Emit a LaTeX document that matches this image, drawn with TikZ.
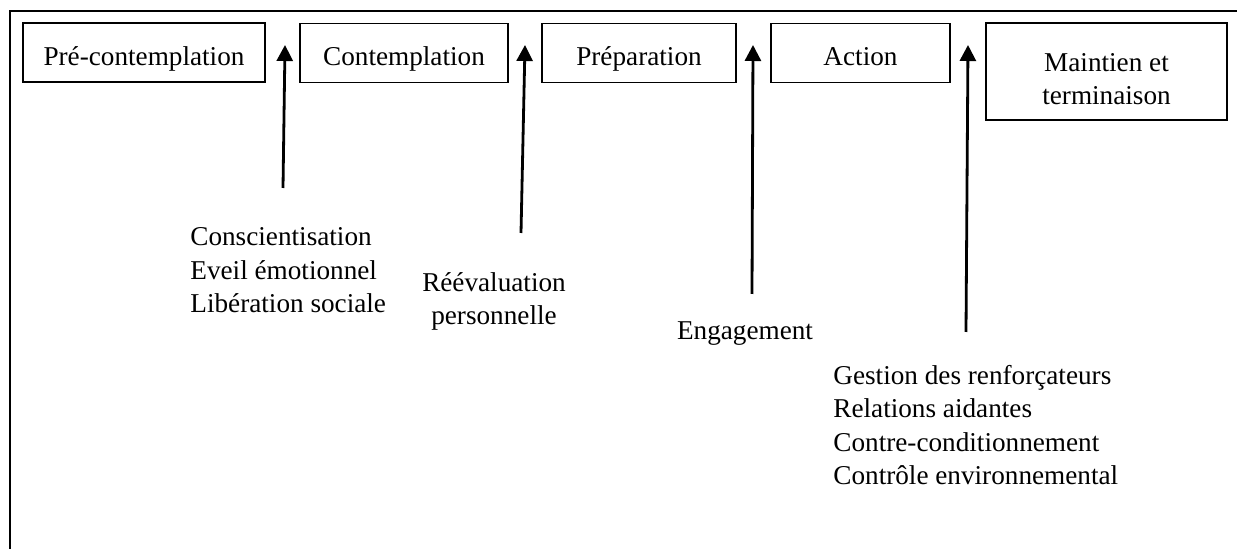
\documentclass[tikz,border=0pt]{standalone}
\usepackage{fontspec}
\setmainfont{Liberation Serif}
\usetikzlibrary{arrows.meta, positioning}

\begin{document}
\begin{tikzpicture}[x=0.5pt, y=-0.5pt, >={Triangle[length=8pt, width=8pt]},
  every node/.style={font=\fontsize{13.6}{16.8}\selectfont},
  stage/.style={draw, line width=0.6pt, minimum height=29.5pt, inner sep=0pt, align=center,
    text height=15.25pt, text depth=2.5pt},
  levier/.style={->, line width=1.4pt}]
  \useasboundingbox (0,0) rectangle (1237,549);
  % cadre
  \draw[line width=1.2pt] (10,549) -- (10,11) -- (1237,11);
  % stades
  \node[stage, minimum width=121pt] (pre) at (144,52.5) {Pré-contemplation};
  \node[stage, minimum width=104pt] (cont) at (404,53) {Contemplation};
  \node[stage, minimum width=97pt] (prep) at (639,53) {Préparation};
  \node[stage, minimum width=89.5pt] (act) at (860.5,53) {Action};
  \node[stage, minimum width=120.5pt, minimum height=48.5pt, text height=36pt] (maint) at (1106.5,71.5) {Maintien et\\terminaison};
  % processus
  \node[anchor=base west, align=left, inner sep=0pt] (proc1) at (190,313) {Conscientisation\\Eveil émotionnel\\Libération sociale};
  \node[anchor=base, align=center, inner sep=0pt] (proc2) at (494,325) {Réévaluation\\personnelle};
  \node[anchor=base, inner sep=0pt] (proc3) at (745,340) {Engagement};
  \node[anchor=base west, align=left, inner sep=0pt] (proc4) at (833,485) {Gestion des renforçateurs\\Relations aidantes\\Contre-conditionnement\\Contrôle environnemental};
  % fleches
  \coordinate (f1b) at (283,188); \coordinate (f1h) at (285,45);
  \coordinate (f2b) at (521,233); \coordinate (f2h) at (525,45);
  \coordinate (f3b) at (752,294); \coordinate (f3h) at (753,45);
  \coordinate (f4b) at (966,332); \coordinate (f4h) at (968,45);
  \draw[levier] (f1b) -- (f1h);
  \draw[levier] (f2b) -- (f2h);
  \draw[levier] (f3b) -- (f3h);
  \draw[levier] (f4b) -- (f4h);
\end{tikzpicture}
\end{document}
